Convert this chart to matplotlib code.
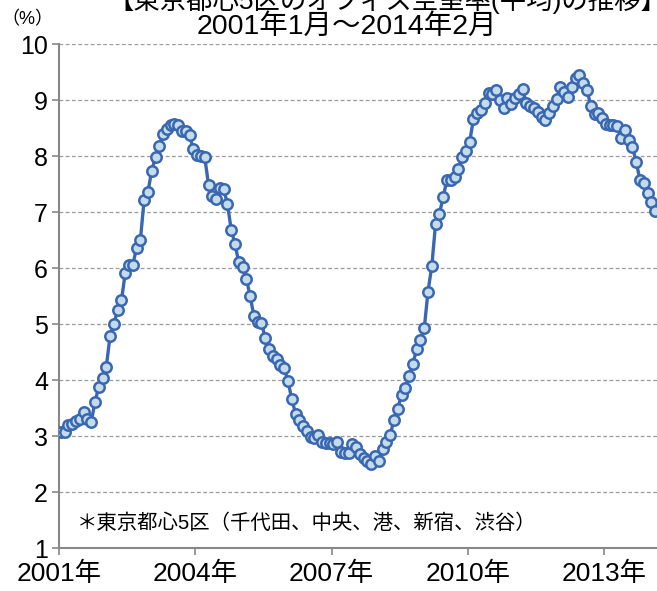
import numpy as np
import matplotlib.pyplot as plt

plt.rcParams['font.family'] = ['Liberation Sans', 'Noto Sans CJK JP', 'DejaVu Sans']

# monthly vacancy rate (%), Jan 2001 - Feb 2014
rate = [
    3.08, 3.08, 3.20, 3.22, 3.27, 3.30, 3.43, 3.30, 3.25, 3.60, 3.88, 4.04,
    4.24, 4.79, 5.00, 5.25, 5.42, 5.91, 6.06, 6.06, 6.36, 6.50, 7.22, 7.36,
    7.74, 7.98, 8.18, 8.39, 8.49, 8.55, 8.57, 8.56, 8.45, 8.45, 8.37, 8.12,
    8.01, 8.00, 7.98, 7.49, 7.28, 7.24, 7.42, 7.41, 7.15, 6.68, 6.43, 6.10,
    6.01, 5.81, 5.50, 5.14, 5.03, 5.02, 4.75, 4.55, 4.43, 4.37, 4.27, 4.21,
    3.98, 3.66, 3.40, 3.29, 3.18, 3.09, 2.98, 2.96, 3.01, 2.90, 2.88, 2.88,
    2.86, 2.90, 2.71, 2.70, 2.70, 2.86, 2.80, 2.67, 2.60, 2.56, 2.50, 2.65,
    2.55, 2.77, 2.89, 3.02, 3.28, 3.49, 3.74, 3.86, 4.07, 4.29, 4.55, 4.71,
    4.92, 5.58, 6.04, 6.79, 6.97, 7.26, 7.58, 7.58, 7.63, 7.76, 7.99, 8.09,
    8.25, 8.66, 8.76, 8.83, 8.94, 9.13, 9.11, 9.17, 9.00, 8.85, 9.03, 8.92,
    9.03, 9.11, 9.20, 8.94, 8.89, 8.85, 8.79, 8.70, 8.64, 8.77, 8.90, 9.01,
    9.24, 9.15, 9.05, 9.24, 9.40, 9.45, 9.30, 9.18, 8.90, 8.75, 8.77, 8.67,
    8.57, 8.56, 8.56, 8.53, 8.33, 8.46, 8.29, 8.16, 7.90, 7.57, 7.52, 7.34,
    7.18, 7.02,
]
tick_years = [2001, 2004, 2007, 2010, 2013]
start_year = 2001

months = np.arange(len(rate)) + 0.5
tick_pos = [(y - start_year) * 12 for y in tick_years]
tick_labels = [f"{y}年" for y in tick_years]

fig = plt.figure(figsize=(6.57, 5.91), dpi=100)
ax = fig.add_axes([59 / 657, 1 - 548 / 591, 1 - 59 / 657, (548 - 44) / 591])

ax.plot(months, rate, color='#3A67B1', lw=2.4, marker='o', ms=7.5,
        mfc='#C4DCEA', mec='#3A67B1', mew=1.8, zorder=3)

ax.set_xlim(0, len(rate))
ax.set_ylim(1, 10)
ax.set_yticks(range(1, 11))
ax.set_xticks(tick_pos)
ax.set_xticklabels(tick_labels)
ax.grid(axis='y', color='#9A9A9A', ls=(0, (3, 2)), lw=0.9)
ax.set_axisbelow(True)

for s in ['top', 'right']:
    ax.spines[s].set_visible(False)
for s in ['left', 'bottom']:
    ax.spines[s].set_color('#888888')
    ax.spines[s].set_linewidth(1.5)
ax.tick_params(axis='both', colors='#888888', length=5, width=1.2,
               labelcolor='black')
ax.tick_params(axis='y', labelsize=18, pad=3)
ax.tick_params(axis='x', labelsize=19, pad=5)

ax.text(0.03, 0.05, '＊東京都心5区（千代田、中央、港、新宿、渋谷）',
        transform=ax.transAxes, fontsize=14.7, va='center', ha='left')

fig.text(0.59, 0.999, '【東京都心5区のオフィス空室率(平均)の推移】',
         fontsize=19, ha='center', va='center')
fig.text(0.528, 0.955, '2001年1月～2014年2月', fontsize=20.5,
         ha='center', va='center')
fig.text(0.042, 0.967, '（%）', fontsize=13, ha='center', va='center')

fig.savefig('out.png', dpi=100)
